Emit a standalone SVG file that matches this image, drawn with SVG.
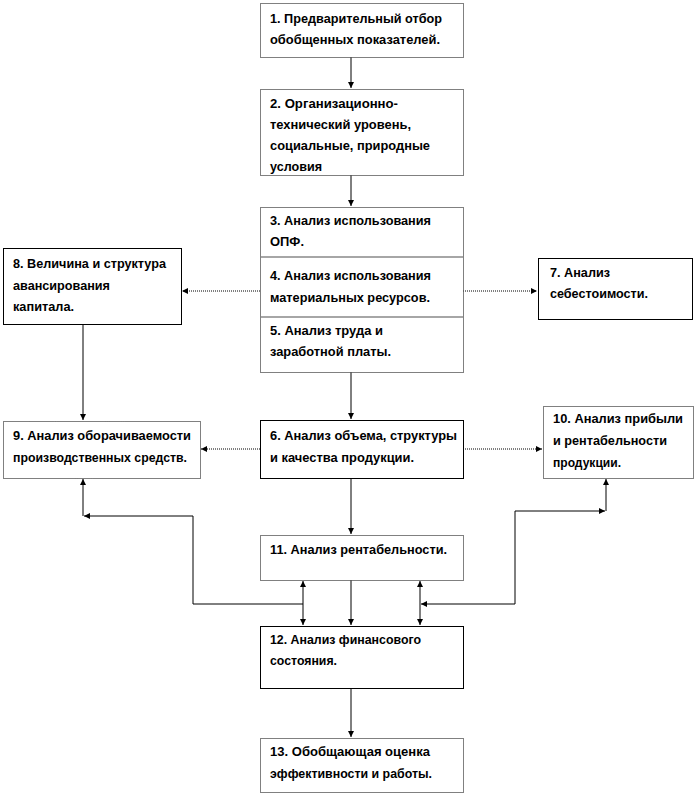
<svg xmlns="http://www.w3.org/2000/svg" width="696" height="794" viewBox="0 0 696 794">
<defs>
<marker id="ah" markerUnits="userSpaceOnUse" markerWidth="7" markerHeight="7" refX="6" refY="3" orient="auto-start-reverse">
<path d="M0,0 L6,3 L0,6 z" fill="#000"/>
</marker>
<style>
.box{fill:#fff;stroke:#000;stroke-width:1}
.dot{stroke-dasharray:1 1}
.t{font-family:"Liberation Sans",Arial,sans-serif;font-weight:bold;font-size:13px;fill:#000}
.c{fill:none;stroke:#000;stroke-width:1}
.d{fill:none;stroke:#000;stroke-width:1;stroke-dasharray:1 1}
.div{stroke:#888;stroke-width:1.5}
</style>
</defs>
<rect width="696" height="794" fill="#fff"/>

<g id="connectors">
<path class="c" d="M351,57 V88" marker-end="url(#ah)"/>
<path class="c" d="M351,175 V206" marker-end="url(#ah)"/>
<path class="d" d="M260,291 H182" marker-end="url(#ah)"/>
<path class="d" d="M463,291 H537" marker-end="url(#ah)"/>
<path class="c" d="M83,324 V420" marker-end="url(#ah)"/>
<path class="c" d="M351,372 V419" marker-end="url(#ah)"/>
<path class="d" d="M260,449 H201" marker-end="url(#ah)"/>
<path class="d" d="M463,449 H542" marker-end="url(#ah)"/>
<path class="c" d="M351,478 V534" marker-end="url(#ah)"/>
<path class="c" d="M351,580 V625" marker-end="url(#ah)"/>
<path class="c" d="M303,581 V625" marker-start="url(#ah)" marker-end="url(#ah)"/>
<path class="c" d="M420,581 V625" marker-start="url(#ah)" marker-end="url(#ah)"/>
<path class="c" d="M303,604 H193 V516 H84" marker-end="url(#ah)"/>
<path class="c" d="M83,516 V479" marker-end="url(#ah)"/>
<path class="c" d="M515,604 H421" marker-end="url(#ah)"/>
<path class="c" d="M515,604 V511 H605" marker-end="url(#ah)"/>
<path class="c" d="M606,511 V479" marker-end="url(#ah)"/>
<path class="c" d="M351,688 V737" marker-end="url(#ah)"/>
</g>

<g id="n1">
<rect class="box dot" x="260.5" y="3.5" width="203" height="54"/>
<text class="t" x="270" y="23" textLength="172" lengthAdjust="spacingAndGlyphs">1. Предварительный отбор</text>
<text class="t" x="270" y="44" textLength="170" lengthAdjust="spacingAndGlyphs">обобщенных показателей.</text>
</g>

<g id="n2">
<rect class="box dot" x="260.5" y="89.5" width="203" height="86"/>
<text class="t" x="270" y="108" textLength="128" lengthAdjust="spacingAndGlyphs">2. Организационно-</text>
<text class="t" x="270" y="129" textLength="141" lengthAdjust="spacingAndGlyphs">технический уровень,</text>
<text class="t" x="270" y="150" textLength="160" lengthAdjust="spacingAndGlyphs">социальные, природные</text>
<text class="t" x="270" y="171" textLength="52" lengthAdjust="spacingAndGlyphs">условия</text>
</g>

<g id="n3-5">
<rect class="box dot" x="260.5" y="207.5" width="203" height="165"/>
<line class="div" x1="261" y1="257" x2="463" y2="257"/>
<line class="div" x1="261" y1="317" x2="463" y2="317"/>
<g id="n3">
<text class="t" x="270" y="225" textLength="161" lengthAdjust="spacingAndGlyphs">3. Анализ использования</text>
<text class="t" x="270" y="246" textLength="34" lengthAdjust="spacingAndGlyphs">ОПФ.</text>
</g>
<g id="n4">
<text class="t" x="270" y="280" textLength="161" lengthAdjust="spacingAndGlyphs">4. Анализ использования</text>
<text class="t" x="270" y="302" textLength="160" lengthAdjust="spacingAndGlyphs">материальных ресурсов.</text>
</g>
<g id="n5">
<text class="t" x="270" y="335" textLength="113" lengthAdjust="spacingAndGlyphs">5. Анализ труда и</text>
<text class="t" x="270" y="356" textLength="121" lengthAdjust="spacingAndGlyphs">заработной платы.</text>
</g>
</g>

<g id="n8">
<rect class="box" x="3.5" y="248.5" width="178" height="76"/>
<text class="t" x="13" y="268" textLength="153" lengthAdjust="spacingAndGlyphs">8. Величина и структура</text>
<text class="t" x="13" y="290" textLength="97" lengthAdjust="spacingAndGlyphs">авансирования</text>
<text class="t" x="13" y="311" textLength="61" lengthAdjust="spacingAndGlyphs">капитала.</text>
</g>

<g id="n7">
<rect class="box" x="538.5" y="258.5" width="154" height="61"/>
<text class="t" x="550" y="277" textLength="60" lengthAdjust="spacingAndGlyphs">7. Анализ</text>
<text class="t" x="550" y="298" textLength="98" lengthAdjust="spacingAndGlyphs">себестоимости.</text>
</g>

<g id="n9">
<rect class="box dot" x="3.5" y="421.5" width="197" height="57"/>
<text class="t" x="13" y="440" textLength="178" lengthAdjust="spacingAndGlyphs">9. Анализ оборачиваемости</text>
<text class="t" x="13" y="462" textLength="174" lengthAdjust="spacingAndGlyphs">производственных средств.</text>
</g>

<g id="n6">
<rect class="box" x="260.5" y="420.5" width="203" height="58"/>
<text class="t" x="270" y="440" textLength="187" lengthAdjust="spacingAndGlyphs">6. Анализ объема, структуры</text>
<text class="t" x="270" y="462" textLength="144" lengthAdjust="spacingAndGlyphs">и качества продукции.</text>
</g>

<g id="n10">
<rect class="box dot" x="543.5" y="406.5" width="150" height="72"/>
<text class="t" x="553" y="423" textLength="130" lengthAdjust="spacingAndGlyphs">10.  Анализ прибыли</text>
<text class="t" x="553" y="445" textLength="114" lengthAdjust="spacingAndGlyphs">и рентабельности</text>
<text class="t" x="553" y="467" textLength="68" lengthAdjust="spacingAndGlyphs">продукции.</text>
</g>

<g id="n11">
<rect class="box dot" x="260.5" y="535.5" width="203" height="45"/>
<text class="t" x="270" y="554" textLength="177" lengthAdjust="spacingAndGlyphs">11.  Анализ рентабельности.</text>
</g>

<g id="n12">
<rect class="box" x="260.5" y="626.5" width="203" height="62"/>
<text class="t" x="270" y="644" textLength="151" lengthAdjust="spacingAndGlyphs">12.  Анализ финансового</text>
<text class="t" x="270" y="665" textLength="67" lengthAdjust="spacingAndGlyphs">состояния.</text>
</g>

<g id="n13">
<rect class="box dot" x="260.5" y="738.5" width="203" height="54"/>
<text class="t" x="270" y="756" textLength="160" lengthAdjust="spacingAndGlyphs">13.  Обобщающая оценка</text>
<text class="t" x="270" y="778" textLength="162" lengthAdjust="spacingAndGlyphs">эффективности и работы.</text>
</g>
</svg>
